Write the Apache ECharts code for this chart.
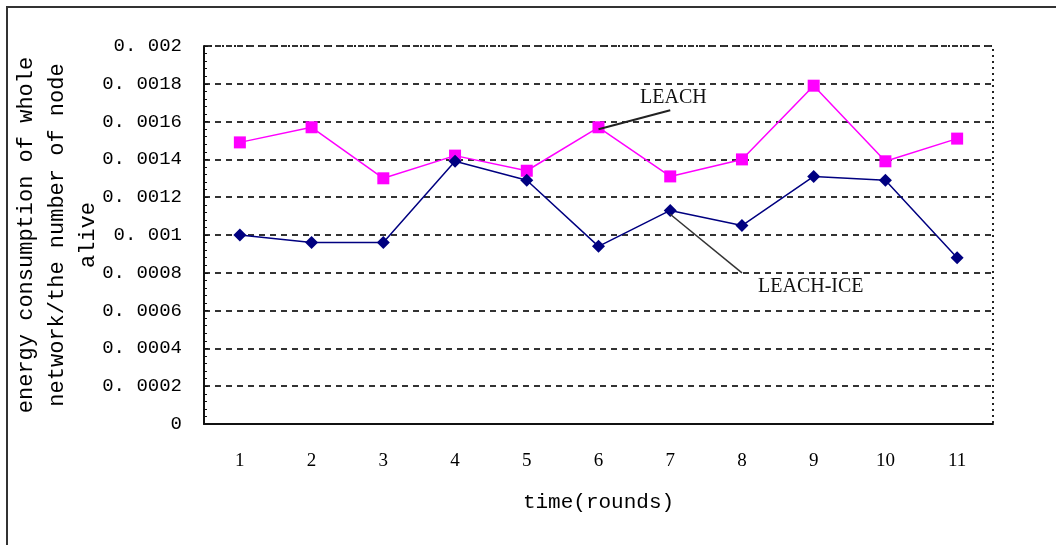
<!DOCTYPE html>
<html>
<head>
<meta charset="utf-8">
<script src="https://cdn.jsdelivr.net/npm/echarts@6/dist/echarts.min.js"></script>
<style>
  html, body { margin: 0; padding: 0; background: #fff; }
  #chart { width: 1056px; height: 545px; }
</style>
</head>
<body>
<div id="chart"></div>
<script>
const rounds = ["1", "2", "3", "4", "5", "6", "7", "8", "9", "10", "11"];
const leach = [0.00149, 0.00157, 0.0013, 0.00142, 0.00134, 0.00157, 0.00131, 0.0014, 0.00179, 0.00139, 0.00151];
const leachIce = [0.001, 0.00096, 0.00096, 0.00139, 0.00129, 0.00094, 0.00113, 0.00105, 0.00131, 0.00129, 0.00088];

const monoFont = "'Liberation Mono', 'DejaVu Sans Mono', monospace";
const serifFont = "'Liberation Serif', 'Times New Roman', serif";

const fmtTick = (v) => {
  if (v === 0) return "0";
  return v.toFixed(4).replace(/0+$/, "").replace("0.", "0. ");
};

const chartDom = document.getElementById("chart");
const myChart = echarts.init(chartDom);

myChart.setOption({
  animation: false,
  backgroundColor: "#fff",
  grid: {
    left: 204,
    top: 46,
    right: 63,
    bottom: 121,
    outerBoundsMode: "none",
    containLabel: false,
    show: true,
    borderColor: "#222",
    borderWidth: 2,
    borderType: [2, 4],
  },
  graphic: [
    {
      type: "rect",
      shape: { x: 7, y: 7, width: 1200, height: 700 },
      style: { fill: "none", stroke: "#333", lineWidth: 2 },
      silent: true,
    },
    {
      type: "text",
      left: 640,
      top: 88,
      style: { text: "LEACH", font: "20px " + serifFont, fill: "#111" },
    },
    {
      type: "text",
      left: 758,
      top: 277,
      style: { text: "LEACH-ICE", font: "20px " + serifFont, fill: "#111" },
    },
  ],
  xAxis: {
    type: "category",
    data: rounds,
    name: "time(rounds)",
    nameLocation: "middle",
    nameGap: 68,
    nameMoveOverlap: false,
    nameTextStyle: { fontFamily: monoFont, fontSize: 21, color: "#000" },
    axisLine: { lineStyle: { color: "#111", width: 2 } },
    axisTick: { inside: true, length: 5, lineStyle: { color: "#111" } },
    axisLabel: { margin: 28, fontFamily: serifFont, fontSize: 19, color: "#000" },
  },
  yAxis: {
    type: "value",
    min: 0,
    max: 0.002,
    interval: 0.0002,
    name: "energy consumption of whole\nnetwork/the number of node\nalive",
    nameLocation: "middle",
    nameGap: 100,
    nameMoveOverlap: false,
    nameTextStyle: { fontFamily: monoFont, fontSize: 22, color: "#000", lineHeight: 31, align: "center" },
    axisLine: { show: true, lineStyle: { color: "#111", width: 2 } },
    axisTick: { show: true, inside: true, length: 4, lineStyle: { color: "#111" } },
    minorTick: { show: true, splitNumber: 5, length: 3, lineStyle: { color: "#111" } },
    axisLabel: { margin: 22, fontFamily: monoFont, fontSize: 19, color: "#000", formatter: fmtTick },
    splitLine: { show: true, lineStyle: { color: "#333", width: 2, type: [6, 5] } },
  },
  series: [
    {
      name: "LEACH",
      type: "line",
      data: leach,
      symbol: "rect",
      symbolSize: 12,
      itemStyle: { color: "#ff00ff" },
      lineStyle: { color: "#ff00ff", width: 1.5 },
      markLine: {
        silent: true,
        symbol: "none",
        label: { show: false },
        lineStyle: { color: "#222", width: 2, type: "solid" },
        data: [[{ coord: [4.95, 0.00156] }, { coord: [5.62, 0.00166] }]],
      },
    },
    {
      name: "LEACH-ICE",
      type: "line",
      data: leachIce,
      symbol: "diamond",
      symbolSize: 13,
      itemStyle: { color: "#000080" },
      lineStyle: { color: "#000080", width: 1.5 },
      markLine: {
        silent: true,
        symbol: "none",
        label: { show: false },
        lineStyle: { color: "#333", width: 1.5, type: "solid" },
        data: [[{ coord: [6.3, 0.00111] }, { coord: [7.28, 0.0008] }]],
      },
    },
  ],
});
</script>
</body>
</html>
